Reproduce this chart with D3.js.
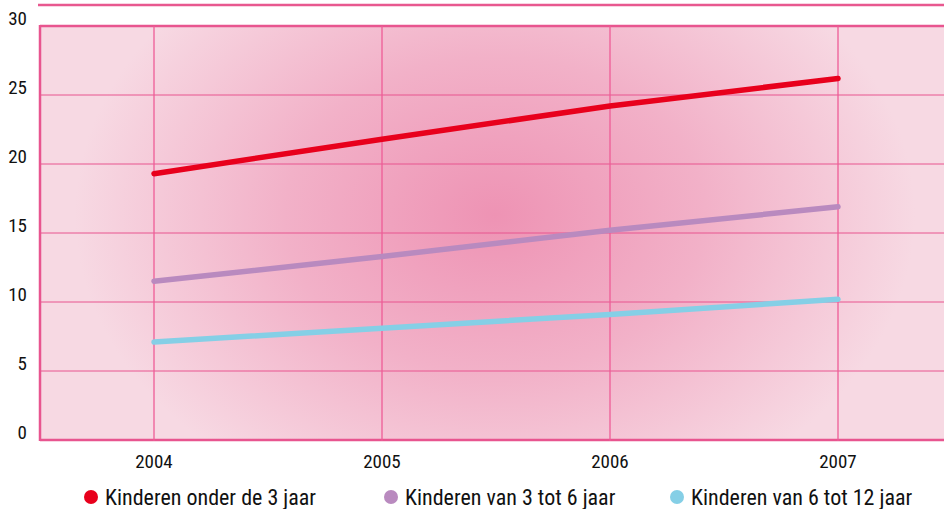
<!DOCTYPE html>
<html>
<head>
<meta charset="utf-8">
<script src="https://cdn.jsdelivr.net/npm/d3@7"></script>
<style>
  body { margin: 0; background: #fff; }
  svg text { font-family: "Liberation Sans Narrow", "Arial Narrow", "Roboto Condensed", "Liberation Sans", sans-serif; fill: #111; }
</style>
</head>
<body>
<svg id="chart" width="944" height="509"></svg>
<script>
// chart values
const years = [2004, 2005, 2006, 2007];
const yTicks = [0, 5, 10, 15, 20, 25, 30];
const seriesNames = ['Kinderen onder de 3 jaar', 'Kinderen van 3 tot 6 jaar', 'Kinderen van 6 tot 12 jaar'];
const seriesColors = ['#e8001c', '#b98abf', '#85cfe6'];
const onder3 = [19.3, 21.8, 24.2, 26.2];
const van3tot6 = [11.5, 13.3, 15.2, 16.9];
const van6tot12 = [7.1, 8.1, 9.1, 10.2];

const svg = d3.select('#chart');
const plotLeft = 40, plotTop = 26, plotBottom = 441, plotRight = 944;

const x = d3.scaleLinear().domain([2003.5, 2007.5]).range([plotLeft, plotLeft + 912]);
const y = d3.scaleLinear().domain([0, 30]).range([plotBottom - 1, plotTop]);

// background gradient
const defs = svg.append('defs');
const cx = 495, cy = 215;
const grad = defs.append('radialGradient')
  .attr('id', 'bg')
  .attr('gradientUnits', 'userSpaceOnUse')
  .attr('cx', cx).attr('cy', cy).attr('r', 420)
  .attr('gradientTransform', `translate(${cx},${cy}) scale(1,0.75) translate(${-cx},${-cy})`);
grad.append('stop').attr('offset', '0%').attr('stop-color', '#ee93b4');
grad.append('stop').attr('offset', '50%').attr('stop-color', '#f2b1c8');
grad.append('stop').attr('offset', '100%').attr('stop-color', '#f7d9e3');

// top decoration line
svg.append('line')
  .attr('x1', 38).attr('x2', plotRight).attr('y1', 5).attr('y2', 5)
  .attr('stroke', '#e8588f').attr('stroke-width', 2.5);

svg.append('rect')
  .attr('x', plotLeft).attr('y', plotTop)
  .attr('width', plotRight - plotLeft + 5).attr('height', plotBottom - plotTop)
  .attr('fill', 'url(#bg)');

// grid
svg.append('g')
  .selectAll('line')
  .data(yTicks)
  .join('line')
  .attr('x1', plotLeft).attr('x2', plotRight)
  .attr('y1', d => y(d)).attr('y2', d => y(d))
  .attr('stroke', '#e8558f').attr('stroke-width', d => (d === 0 || d === 30) ? 2.5 : 1);

svg.append('g')
  .selectAll('line')
  .data(years)
  .join('line')
  .attr('x1', d => x(d)).attr('x2', d => x(d))
  .attr('y1', plotTop).attr('y2', plotBottom)
  .attr('stroke', '#ee5c97').attr('stroke-width', 1.3);

svg.append('line')
  .attr('x1', plotLeft).attr('x2', plotLeft).attr('y1', plotTop - 1).attr('y2', plotBottom)
  .attr('stroke', '#e8558f').attr('stroke-width', 2.5);

// axis labels
svg.append('g')
  .selectAll('text')
  .data(yTicks)
  .join('text')
  .attr('x', 27).attr('y', d => y(d) - 6)
  .attr('text-anchor', 'end').attr('dominant-baseline', 'middle')
  .attr('font-size', 19)
  .text(d => d);

svg.append('g')
  .selectAll('text')
  .data(years)
  .join('text')
  .attr('x', d => x(d)).attr('y', 468)
  .attr('text-anchor', 'middle')
  .attr('font-size', 19)
  .text(d => d);

// lines
const line = d3.line().x((d, i) => x(years[i])).y(d => y(d));
[onder3, van3tot6, van6tot12].forEach((s, i) => {
  svg.append('path')
    .datum(s)
    .attr('d', line)
    .attr('fill', 'none')
    .attr('stroke', seriesColors[i])
    .attr('stroke-width', 5.5)
    .attr('stroke-linecap', 'round');
});

// legend
const legendX = [91, 391, 677];
const leg = svg.append('g')
  .selectAll('g')
  .data(seriesNames)
  .join('g')
  .attr('transform', (d, i) => `translate(${legendX[i]},497)`);
leg.append('circle').attr('r', 7).attr('fill', (d, i) => seriesColors[i]);
leg.append('text')
  .attr('x', 14).attr('y', 7.5)
  .attr('font-size', 22)
  .text(d => d);
</script>
</body>
</html>
